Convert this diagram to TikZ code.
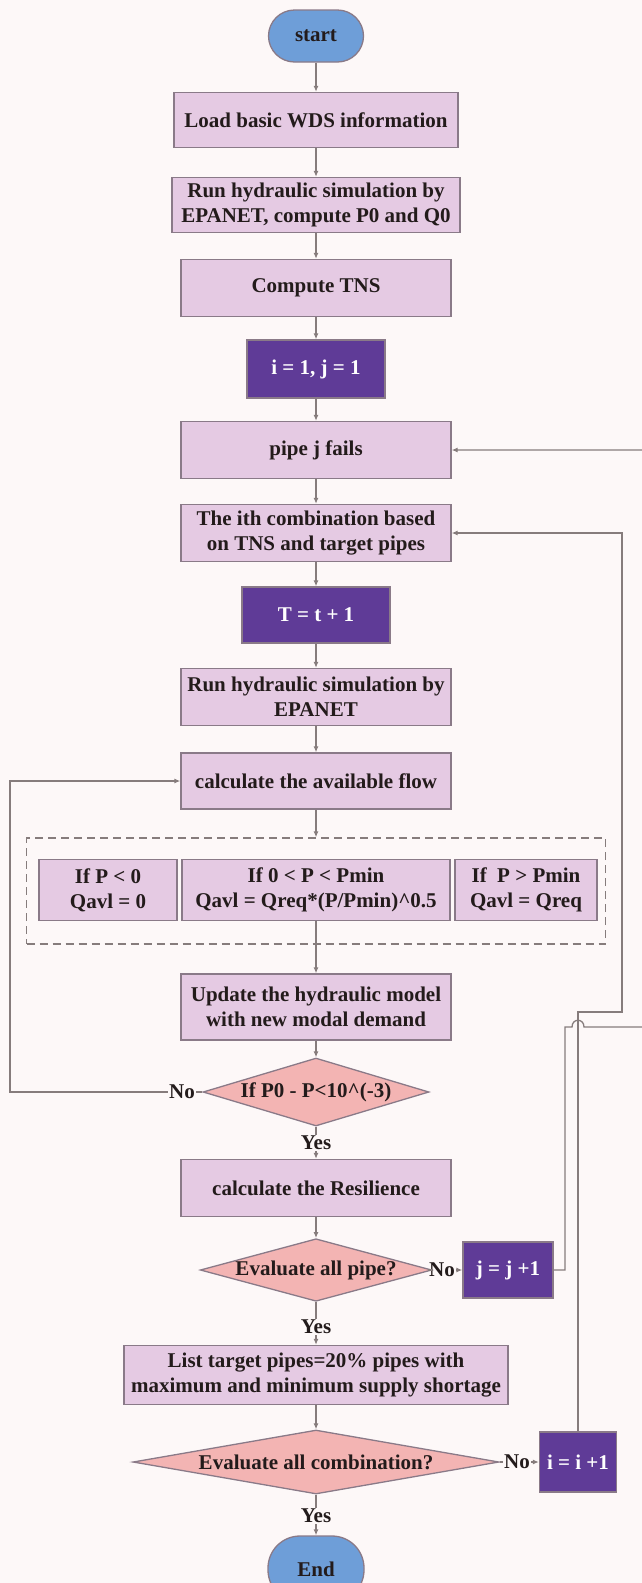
\documentclass[tikz,border=0pt]{standalone}
\usepackage{fontspec}
\setmainfont{Liberation Serif}
\usetikzlibrary{shapes.geometric,arrows.meta}
\tikzset{>={Latex[length=6pt,width=5pt]}}
\definecolor{paper}{HTML}{FDF8F8}
\definecolor{lilac}{HTML}{E5CAE3}
\definecolor{boxline}{HTML}{8A7A88}
\definecolor{plum}{HTML}{5F3B97}
\definecolor{salmon}{HTML}{F3B4B3}
\definecolor{sky}{HTML}{6E9ED8}
\definecolor{wire}{HTML}{867C7C}
\definecolor{ink}{HTML}{231B1B}
\tikzset{
	proc/.style={draw=boxline,fill=lilac,line width=1.3pt,text=ink,align=center,minimum width=270pt,minimum height=57pt,inner sep=2pt},
	dark/.style={draw=boxline,fill=plum,line width=1.3pt,text=white,minimum height=58pt,inner sep=2pt},
	cond/.style={diamond,draw=boxline,fill=salmon,line width=1.3pt,text=ink,inner sep=0pt},
	term/.style={draw=boxline,fill=sky,line width=1.3pt,text=ink,minimum width=95pt,minimum height=52pt,rounded corners=26pt},
	lbl/.style={text=ink,inner sep=1pt},
	link/.style={draw=wire,line width=1.3pt}
}

\begin{document}
\begin{tikzpicture}[x=1pt,y=-1pt,font=\fontsize{21}{25}\selectfont\bfseries]
	\useasboundingbox (0,0) rectangle (642,1583);
	\fill[paper] (0,0) rectangle (642,1583);

	\node[term] (start) at (316,36) {start};
	\node[proc,minimum width=284pt,minimum height=55pt] (load) at (316,120) {Load basic WDS information};
	\node[proc,minimum width=288pt,minimum height=55pt] (runp) at (316,205) {Run hydraulic simulation by\\EPANET, compute P0 and Q0};
	\node[proc] (tns) at (316,288) {Compute TNS};
	\node[dark,minimum width=138pt] (init) at (316,369) {i = 1, j = 1};
	\node[proc] (fail) at (316,450) {pipe j fails};
	\node[proc] (comb) at (316,533) {The ith combination based\\on TNS and target pipes};
	\node[dark,minimum width=148pt,minimum height=56pt] (tinc) at (316,615) {T = t + 1};
	\node[proc] (runsim) at (316,697) {Run hydraulic simulation by\\EPANET};
	\node[proc,minimum height=56pt] (flow) at (316,781) {calculate the available flow};

	\node[draw=wire,line width=1.3pt,dash pattern=on 8pt off 5pt,minimum width=579pt,minimum height=106pt] (rules) at (316,891) {};
	\node[proc,minimum width=138pt,minimum height=61pt] (low) at (108,890) {If P < 0\\Qavl = 0};
	\node[proc,minimum width=268pt,minimum height=61pt] (mid) at (316,890) {If 0 < P < Pmin\\Qavl = Qreq*(P/Pmin)\textasciicircum 0.5};
	\node[proc,minimum width=142pt,minimum height=61pt] (high) at (526,890) {If~ P > Pmin\\Qavl = Qreq};

	\node[proc,minimum height=66pt] (upd) at (316,1007) {Update the hydraulic model\\with new modal demand};
	\node[cond,aspect=3.4,minimum width=226pt,minimum height=68pt] (conv) at (316,1092) {If P0 - P<10\textasciicircum(-3)};
	\node[lbl] (no1) at (182,1092) {No};
	\node[lbl] (yes1) at (316,1143) {Yes};
	\node[proc] (res) at (316,1188) {calculate the Resilience};
	\node[cond,aspect=3.7,minimum width=222pt,minimum height=60pt] (allpipe) at (316,1270) {Evaluate all pipe?};
	\node[lbl] (no2) at (442,1270) {No};
	\node[dark,minimum width=90pt,minimum height=56pt] (jinc) at (508,1270) {j = j +1};
	\node[lbl] (yes2) at (316,1327) {Yes};
	\node[proc,minimum width=384pt,minimum height=59pt] (list) at (316,1375) {List target pipes=20\% pipes with\\maximum and minimum supply shortage};
	\node[cond,aspect=5.7,minimum width=366pt,minimum height=64pt] (allcomb) at (316,1462) {Evaluate all combination?};
	\node[lbl] (no3) at (517,1462) {No};
	\node[dark,minimum width=77pt,minimum height=60pt] (iinc) at (578,1462) {i = i +1};
	\node[lbl] (yes3) at (316,1516) {Yes};
	\node[term,minimum width=96pt,minimum height=66pt,rounded corners=32pt] (finish) at (316,1569) {End};

	\coordinate (lft) at (10,1092);
	\coordinate (jup) at (565,1027);
	\coordinate (hopl) at (572,1027);
	\coordinate (hopr) at (584,1027);
	\coordinate (rim) at (646,1027);
	\coordinate (iturn) at (622,1012);

	\draw[link,->] (start) -- (load);
	\draw[link,->] (load) -- (runp);
	\draw[link,->] (runp) -- (tns);
	\draw[link,->] (tns) -- (init);
	\draw[link,->] (init) -- (fail);
	\draw[link,->] (fail) -- (comb);
	\draw[link,->] (comb) -- (tinc);
	\draw[link,->] (tinc) -- (runsim);
	\draw[link,->] (runsim) -- (flow);
	\draw[link,->] (flow) -- (rules);
	\draw[link,->] (mid) -- (upd);
	\draw[link,->] (upd) -- (conv);
	\draw[link] (conv) -- (yes1);
	\draw[link,->] (yes1) -- (res);
	\draw[link,->] (res) -- (allpipe);
	\draw[link] (allpipe) -- (yes2);
	\draw[link,->] (yes2) -- (list);
	\draw[link,->] (list) -- (allcomb);
	\draw[link] (allcomb) -- (yes3);
	\draw[link,->] (yes3) -- (finish);

	\draw[link] (conv.west) -- (no1);
	\draw[link,->] (no1) -- (lft) |- (flow.west);
	\draw[link] (allpipe.east) -- (no2);
	\draw[link,->] (no2) -- (jinc);
	\draw[link] (allcomb.east) -- (no3);
	\draw[link,->] (no3) -- (iinc);

	\draw[link,->] (iinc.north) |- (iturn) |- (comb.east);
	\draw[link,->] (jinc.east) -| (jup) -- (hopl) .. controls +(0,-9) and +(0,-9) .. (hopr) -- (rim) |- (fail.east);
\end{tikzpicture}
\end{document}
